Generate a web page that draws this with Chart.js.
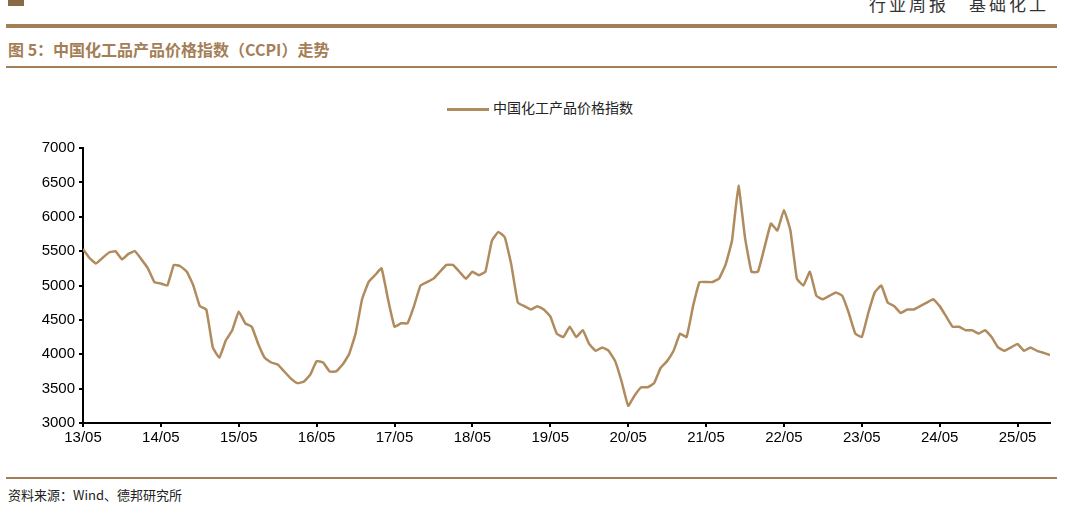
<!DOCTYPE html>
<html><head><meta charset="utf-8">
<script src="https://cdn.jsdelivr.net/npm/chart.js@4"></script>
<style>
body{margin:0;width:1077px;height:518px;background:#fff;position:relative;overflow:hidden;font-family:"Noto Sans CJK SC","Liberation Sans",sans-serif}
.abs{position:absolute}
#hdr{right:28px;top:-9px;font-size:17px;color:#333;letter-spacing:3px}
#logo{left:8px;top:0;width:16px;height:6px;background:#8a6a45}
#l1{left:6px;right:20px;top:24px;height:4px;background:#a47e57}
#title{left:8px;top:37px;font-size:16px;font-weight:bold;color:#a47e57}
#l2{left:6px;right:20px;top:66px;height:2px;background:#a47e57}
#leg{left:447px;top:97px;font-size:14px;color:#222}
#leg span{display:inline-block;width:42px;height:3px;background:#b08b5e;vertical-align:middle;margin-right:4px}
#l3{left:6px;right:20px;top:477px;height:2px;background:#a47e57}
#src{left:8px;top:485px;font-size:13px;color:#222}
#wrap{left:0;top:135px;width:1077px;height:320px}
</style></head><body>
<div class="abs" id="logo"></div>
<div class="abs" id="hdr">行业周报　基础化工</div>
<div class="abs" id="l1"></div>
<div class="abs" id="title">图 5：中国化工品产品价格指数（CCPI）走势</div>
<div class="abs" id="l2"></div>
<div class="abs" id="leg"><span></span>中国化工产品价格指数</div>
<div class="abs" id="wrap"><canvas id="c"></canvas></div>
<div class="abs" id="l3"></div>
<div class="abs" id="src">资料来源：Wind、德邦研究所</div>
<script>
// monthly CCPI values, 2013/05 .. 2025/10
const ccpi = [
  5530, 5400, 5320, 5400, 5480, 5500, 5380, 5460,
  5500, 5380, 5250, 5050, 5030, 5000, 5300, 5280, 5200, 5000, 4700, 4650,
  4100, 3950, 4200, 4350, 4620, 4450, 4400, 4150, 3950, 3880, 3850, 3750,
  3650, 3580, 3600, 3700, 3900, 3880, 3750, 3750, 3850, 4000, 4300, 4800,
  5050, 5150, 5250, 4800, 4400, 4450, 4450, 4700, 5000, 5050, 5100, 5200,
  5300, 5300, 5200, 5100, 5200, 5150, 5200, 5650, 5780, 5700, 5300, 4750,
  4700, 4650, 4700, 4650, 4550, 4300, 4250, 4400, 4250, 4350, 4150, 4050,
  4100, 4050, 3900, 3600, 3250, 3400, 3520, 3520, 3580, 3800, 3900, 4050,
  4300, 4250, 4700, 5050, 5050, 5050, 5100, 5300, 5650, 6450, 5700, 5200,
  5200, 5550, 5900, 5800, 6100, 5800, 5100, 5000, 5200, 4850, 4800, 4850,
  4900, 4850, 4600, 4300, 4250, 4600, 4900, 5000, 4750, 4700, 4600, 4650,
  4650, 4700, 4750, 4800, 4700, 4550, 4400, 4400, 4350, 4350, 4300, 4350,
  4250, 4100, 4050, 4100, 4150, 4050, 4100, 4050, 4020, 3990
];
const tickLabels = ['13/05','14/05','15/05','16/05','17/05','18/05','19/05','20/05','21/05','22/05','23/05','24/05','25/05'];
const yTicks = [3000, 3500, 4000, 4500, 5000, 5500, 6000, 6500, 7000];

new Chart(document.getElementById('c'), {
  type: 'line',
  data: {
    datasets: [{
      data: ccpi.map((v, i) => ({ x: i, y: v })),
      borderColor: '#b08b5e',
      borderWidth: 2.5,
      pointRadius: 0,
      tension: 0.1
    }]
  },
  options: {
    responsive: true,
    maintainAspectRatio: false,
    animation: false,
    layout: { padding: { top: 10, right: 27 } },
    plugins: { legend: { display: false }, tooltip: { enabled: false } },
    scales: {
      x: {
        type: 'linear', min: 0, max: ccpi.length - 1,
        afterBuildTicks: ax => { ax.ticks = tickLabels.map((_, i) => ({ value: i * 12 })); },
        afterFit: ax => { ax.height = 32; },
        ticks: { callback: v => tickLabels[v / 12], color: '#000', font: { family: 'Liberation Sans', size: 15 }, maxRotation: 0, padding: 2 },
        grid: { drawOnChartArea: false, color: '#000', tickLength: 4, lineWidth: 2 },
        border: { color: '#000', width: 2 }
      },
      y: {
        min: 3000, max: 7000,
        afterBuildTicks: ax => { ax.ticks = yTicks.map(v => ({ value: v })); },
        afterFit: ax => { ax.width = 83; },
        ticks: { callback: v => String(v), color: '#000', font: { family: 'Liberation Sans', size: 15 }, padding: 4 },
        grid: { drawOnChartArea: false, color: '#000', tickLength: 4, lineWidth: 2 },
        border: { color: '#000', width: 2 }
      }
    }
  }
});
</script>
</body></html>
